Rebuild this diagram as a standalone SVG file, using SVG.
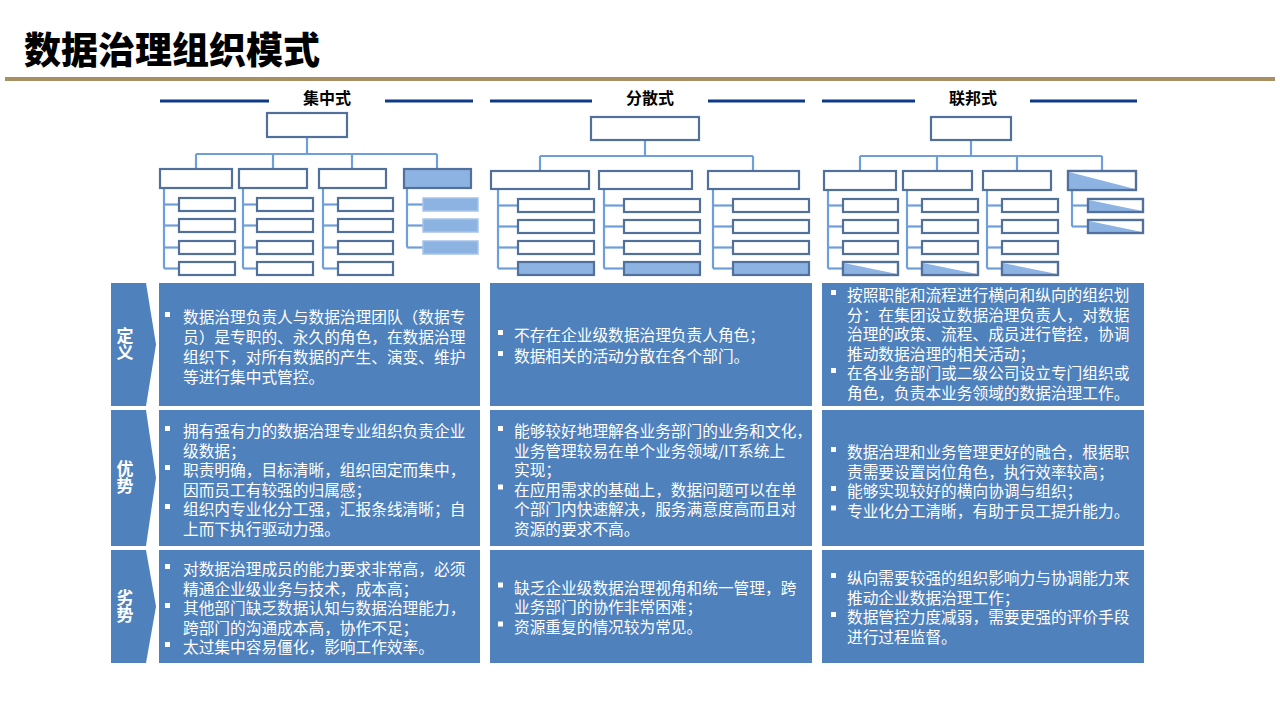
<svg xmlns="http://www.w3.org/2000/svg" width="1280" height="720" viewBox="0 0 1280 720">
<style>
.title{font-family:"Noto Sans CJK SC","Liberation Sans",sans-serif;font-size:37px;font-weight:900;fill:#000}
.hdr{font-family:"Noto Sans CJK SC","Liberation Sans",sans-serif;font-size:16px;font-weight:700;fill:#000}
.hline{stroke:#0F3A8C;stroke-width:3}
.box{fill:#fff;stroke:#52709C;stroke-width:2.2}
.fbox{fill:#8DB3E2;stroke:#52709C;stroke-width:2.2}
.lbox{fill:#8DB3E2;stroke:#A7C4E8;stroke-width:1.5}
.tri{fill:#8DB3E2;stroke:none}
.edge{fill:none;stroke:#52709C;stroke-width:2.2}
.conn line{stroke:#6E9FDA;stroke-width:2.2}
.cell{fill:#4F81BD}
.lab{fill:#4F81BD}
.labt{font-family:"Noto Sans CJK SC","Liberation Sans",sans-serif;font-size:17px;font-weight:700;fill:#fff;text-anchor:middle;writing-mode:vertical-rl}
.txt{font-family:"Noto Sans CJK SC","Liberation Sans",sans-serif;font-size:15.7px;fill:#fff}
.bul{fill:#fff}
</style>

<!-- Title -->
<g id="title">
<text class="title" x="24" y="64">数据治理组织模式</text>
<rect x="5" y="77" width="1270" height="4" fill="#A89064"/>
</g>

<!-- Headers -->
<g id="hdr-central">
<line class="hline" x1="160" y1="101" x2="269" y2="101"/>
<line class="hline" x1="385" y1="101" x2="473" y2="101"/>
<text class="hdr" x="327" y="104" text-anchor="middle">集中式</text>
</g>
<g id="hdr-distributed">
<line class="hline" x1="490" y1="101" x2="592" y2="101"/>
<line class="hline" x1="708" y1="101" x2="805" y2="101"/>
<text class="hdr" x="650" y="104" text-anchor="middle">分散式</text>
</g>
<g id="hdr-federal">
<line class="hline" x1="822" y1="101" x2="915" y2="101"/>
<line class="hline" x1="1030" y1="101" x2="1137" y2="101"/>
<text class="hdr" x="973" y="104" text-anchor="middle">联邦式</text>
</g>

<!-- Connectors -->
<g id="connectors" class="conn">
<!-- chart 1 -->
<line x1="307" y1="137" x2="307" y2="154"/>
<line x1="196" y1="154" x2="437" y2="154"/>
<line x1="196" y1="154" x2="196" y2="169"/>
<line x1="273" y1="154" x2="273" y2="169"/>
<line x1="352" y1="154" x2="352" y2="169"/>
<line x1="437" y1="154" x2="437" y2="169"/>
<line x1="164" y1="188" x2="164" y2="268.5"/>
<line x1="164" y1="204.5" x2="179" y2="204.5"/>
<line x1="164" y1="225.5" x2="179" y2="225.5"/>
<line x1="164" y1="247.5" x2="179" y2="247.5"/>
<line x1="164" y1="268.5" x2="179" y2="268.5"/>
<line x1="243" y1="188" x2="243" y2="268.5"/>
<line x1="243" y1="204.5" x2="257" y2="204.5"/>
<line x1="243" y1="225.5" x2="257" y2="225.5"/>
<line x1="243" y1="247.5" x2="257" y2="247.5"/>
<line x1="243" y1="268.5" x2="257" y2="268.5"/>
<line x1="323" y1="188" x2="323" y2="268.5"/>
<line x1="323" y1="204.5" x2="338" y2="204.5"/>
<line x1="323" y1="225.5" x2="338" y2="225.5"/>
<line x1="323" y1="247.5" x2="338" y2="247.5"/>
<line x1="323" y1="268.5" x2="338" y2="268.5"/>
<line x1="407" y1="188" x2="407" y2="247.5"/>
<line x1="407" y1="204.5" x2="423" y2="204.5"/>
<line x1="407" y1="225.5" x2="423" y2="225.5"/>
<line x1="407" y1="247.5" x2="423" y2="247.5"/>
<!-- chart 2 -->
<line x1="645" y1="140" x2="645" y2="156"/>
<line x1="540" y1="156" x2="753" y2="156"/>
<line x1="540" y1="156" x2="540" y2="171"/>
<line x1="753" y1="156" x2="753" y2="171"/>
<line x1="498" y1="189" x2="498" y2="268.5"/>
<line x1="498" y1="205.5" x2="518" y2="205.5"/>
<line x1="498" y1="226.5" x2="518" y2="226.5"/>
<line x1="498" y1="247.5" x2="518" y2="247.5"/>
<line x1="498" y1="268.5" x2="518" y2="268.5"/>
<line x1="604" y1="189" x2="604" y2="268.5"/>
<line x1="604" y1="205.5" x2="624" y2="205.5"/>
<line x1="604" y1="226.5" x2="624" y2="226.5"/>
<line x1="604" y1="247.5" x2="624" y2="247.5"/>
<line x1="604" y1="268.5" x2="624" y2="268.5"/>
<line x1="713" y1="189" x2="713" y2="268.5"/>
<line x1="713" y1="205.5" x2="733" y2="205.5"/>
<line x1="713" y1="226.5" x2="733" y2="226.5"/>
<line x1="713" y1="247.5" x2="733" y2="247.5"/>
<line x1="713" y1="268.5" x2="733" y2="268.5"/>
<!-- chart 3 -->
<line x1="971" y1="140" x2="971" y2="156"/>
<line x1="860" y1="156" x2="1102" y2="156"/>
<line x1="860" y1="156" x2="860" y2="171"/>
<line x1="937" y1="156" x2="937" y2="171"/>
<line x1="1017" y1="156" x2="1017" y2="171"/>
<line x1="1102" y1="156" x2="1102" y2="171"/>
<line x1="828" y1="190" x2="828" y2="268.5"/>
<line x1="828" y1="205.5" x2="843" y2="205.5"/>
<line x1="828" y1="226.5" x2="843" y2="226.5"/>
<line x1="828" y1="247.5" x2="843" y2="247.5"/>
<line x1="828" y1="268.5" x2="843" y2="268.5"/>
<line x1="907" y1="190" x2="907" y2="268.5"/>
<line x1="907" y1="205.5" x2="922" y2="205.5"/>
<line x1="907" y1="226.5" x2="922" y2="226.5"/>
<line x1="907" y1="247.5" x2="922" y2="247.5"/>
<line x1="907" y1="268.5" x2="922" y2="268.5"/>
<line x1="987" y1="190" x2="987" y2="268.5"/>
<line x1="987" y1="205.5" x2="1002" y2="205.5"/>
<line x1="987" y1="226.5" x2="1002" y2="226.5"/>
<line x1="987" y1="247.5" x2="1002" y2="247.5"/>
<line x1="987" y1="268.5" x2="1002" y2="268.5"/>
<line x1="1072" y1="190" x2="1072" y2="226.5"/>
<line x1="1072" y1="205.5" x2="1088" y2="205.5"/>
<line x1="1072" y1="226.5" x2="1088" y2="226.5"/>
</g>

<!-- Chart 1: centralized -->
<g id="c1-top"><rect class="box" x="267" y="113" width="80" height="24"/></g>
<g id="c1-a"><rect class="box" x="160" y="169" width="72" height="19"/></g>
<g id="c1-b"><rect class="box" x="239" y="169" width="68" height="19"/></g>
<g id="c1-c"><rect class="box" x="319" y="169" width="67" height="19"/></g>
<g id="c1-d"><rect class="fbox" x="404" y="169" width="67" height="19"/></g>
<g id="c1-a1"><rect class="box" x="179" y="198" width="56" height="13"/></g>
<g id="c1-a2"><rect class="box" x="179" y="219" width="56" height="13"/></g>
<g id="c1-a3"><rect class="box" x="179" y="241" width="56" height="13"/></g>
<g id="c1-a4"><rect class="box" x="179" y="262" width="56" height="13"/></g>
<g id="c1-b1"><rect class="box" x="257" y="198" width="56" height="13"/></g>
<g id="c1-b2"><rect class="box" x="257" y="219" width="56" height="13"/></g>
<g id="c1-b3"><rect class="box" x="257" y="241" width="56" height="13"/></g>
<g id="c1-b4"><rect class="box" x="257" y="262" width="56" height="13"/></g>
<g id="c1-c1"><rect class="box" x="338" y="198" width="55" height="13"/></g>
<g id="c1-c2"><rect class="box" x="338" y="219" width="55" height="13"/></g>
<g id="c1-c3"><rect class="box" x="338" y="241" width="55" height="13"/></g>
<g id="c1-c4"><rect class="box" x="338" y="262" width="55" height="13"/></g>
<g id="c1-d1"><rect class="lbox" x="423" y="198" width="55" height="13"/></g>
<g id="c1-d2"><rect class="lbox" x="423" y="219" width="55" height="13"/></g>
<g id="c1-d3"><rect class="lbox" x="423" y="241" width="55" height="13"/></g>

<!-- Chart 2: distributed -->
<g id="c2-top"><rect class="box" x="591" y="117" width="108" height="23"/></g>
<g id="c2-a"><rect class="box" x="491" y="171" width="98" height="18"/></g>
<g id="c2-b"><rect class="box" x="599" y="171" width="93" height="18"/></g>
<g id="c2-c"><rect class="box" x="708" y="171" width="91" height="18"/></g>
<g id="c2-a1"><rect class="box" x="518" y="199" width="76" height="13"/></g>
<g id="c2-a2"><rect class="box" x="518" y="220" width="76" height="13"/></g>
<g id="c2-a3"><rect class="box" x="518" y="241" width="76" height="13"/></g>
<g id="c2-a4"><rect class="fbox" x="518" y="262" width="76" height="13"/></g>
<g id="c2-b1"><rect class="box" x="624" y="199" width="76" height="13"/></g>
<g id="c2-b2"><rect class="box" x="624" y="220" width="76" height="13"/></g>
<g id="c2-b3"><rect class="box" x="624" y="241" width="76" height="13"/></g>
<g id="c2-b4"><rect class="fbox" x="624" y="262" width="76" height="13"/></g>
<g id="c2-c1"><rect class="box" x="733" y="199" width="76" height="13"/></g>
<g id="c2-c2"><rect class="box" x="733" y="220" width="76" height="13"/></g>
<g id="c2-c3"><rect class="box" x="733" y="241" width="76" height="13"/></g>
<g id="c2-c4"><rect class="fbox" x="733" y="262" width="76" height="13"/></g>

<!-- Chart 3: federal -->
<g id="c3-top"><rect class="box" x="931" y="117" width="80" height="23"/></g>
<g id="c3-a"><rect class="box" x="824" y="171" width="72" height="19"/></g>
<g id="c3-b"><rect class="box" x="903" y="171" width="69" height="19"/></g>
<g id="c3-c"><rect class="box" x="983" y="171" width="68" height="19"/></g>
<g id="c3-d"><rect class="box" x="1068" y="171" width="68" height="19"/><polygon class="tri" points="1069,172 1069,189 1135,189"/><rect class="edge" x="1068" y="171" width="68" height="19"/></g>
<g id="c3-a1"><rect class="box" x="843" y="199" width="55" height="13"/></g>
<g id="c3-a2"><rect class="box" x="843" y="220" width="55" height="13"/></g>
<g id="c3-a3"><rect class="box" x="843" y="241" width="55" height="13"/></g>
<g id="c3-a4"><rect class="box" x="843" y="262" width="55" height="13"/><polygon class="tri" points="844,263 844,274 897,274"/><rect class="edge" x="843" y="262" width="55" height="13"/></g>
<g id="c3-b1"><rect class="box" x="922" y="199" width="56" height="13"/></g>
<g id="c3-b2"><rect class="box" x="922" y="220" width="56" height="13"/></g>
<g id="c3-b3"><rect class="box" x="922" y="241" width="56" height="13"/></g>
<g id="c3-b4"><rect class="box" x="922" y="262" width="56" height="13"/><polygon class="tri" points="923,263 923,274 977,274"/><rect class="edge" x="922" y="262" width="56" height="13"/></g>
<g id="c3-c1"><rect class="box" x="1002" y="199" width="56" height="13"/></g>
<g id="c3-c2"><rect class="box" x="1002" y="220" width="56" height="13"/></g>
<g id="c3-c3"><rect class="box" x="1002" y="241" width="56" height="13"/></g>
<g id="c3-c4"><rect class="box" x="1002" y="262" width="56" height="13"/><polygon class="tri" points="1003,263 1003,274 1057,274"/><rect class="edge" x="1002" y="262" width="56" height="13"/></g>
<g id="c3-d1"><rect class="box" x="1088" y="199" width="55" height="13"/><polygon class="tri" points="1089,200 1089,211 1142,211"/><rect class="edge" x="1088" y="199" width="55" height="13"/></g>
<g id="c3-d2"><rect class="box" x="1088" y="220" width="55" height="13"/><polygon class="tri" points="1089,221 1089,232 1142,232"/><rect class="edge" x="1088" y="220" width="55" height="13"/></g>

<!-- Row labels -->
<g id="lab-def">
<path class="lab" d="M111,283 H146 L156,344.5 L146,406 H111 Z"/>
<text class="labt" x="125" y="344.5">定义</text>
</g>
<g id="lab-adv">
<path class="lab" d="M111,410 H146 L156,478 L146,546 H111 Z"/>
<text class="labt" x="125" y="477">优势</text>
</g>
<g id="lab-dis">
<path class="lab" d="M111,550 H146 L156,606.5 L146,663 H111 Z"/>
<text class="labt" x="125" y="606">劣势</text>
</g>

<!-- Row 1 -->
<g id="r1c1">
<rect class="cell" x="159" y="283" width="321" height="123"/>
<rect class="bul" x="165" y="312" width="5" height="5"/>
<text class="txt"><tspan x="183" y="323">数据治理负责人与数据治理团队（数据专</tspan><tspan x="183" y="343">员）是专职的、永久的角色，在数据治理</tspan><tspan x="183" y="363">组织下，对所有数据的产生、演变、维护</tspan><tspan x="183" y="383">等进行集中式管控。</tspan></text>
</g>
<g id="r1c2">
<rect class="cell" x="490" y="283" width="322" height="123"/>
<rect class="bul" x="498" y="330" width="5" height="5"/>
<rect class="bul" x="498" y="351" width="5" height="5"/>
<text class="txt"><tspan x="514" y="341">不存在企业级数据治理负责人角色；</tspan><tspan x="514" y="362">数据相关的活动分散在各个部门。</tspan></text>
</g>
<g id="r1c3">
<rect class="cell" x="822" y="283" width="322" height="123"/>
<rect class="bul" x="831" y="290" width="5" height="5"/>
<rect class="bul" x="831" y="368" width="5" height="5"/>
<text class="txt"><tspan x="847" y="301">按照职能和流程进行横向和纵向的组织划</tspan><tspan x="847" y="320.5">分：在集团设立数据治理负责人，对数据</tspan><tspan x="847" y="340">治理的政策、流程、成员进行管控，协调</tspan><tspan x="847" y="359.5">推动数据治理的相关活动；</tspan><tspan x="847" y="379">在各业务部门或二级公司设立专门组织或</tspan><tspan x="847" y="398.5">角色，负责本业务领域的数据治理工作。</tspan></text>
</g>

<!-- Row 2 -->
<g id="r2c1">
<rect class="cell" x="159" y="410" width="321" height="136"/>
<rect class="bul" x="165" y="426" width="5" height="5"/>
<rect class="bul" x="165" y="465" width="5" height="5"/>
<rect class="bul" x="165" y="504" width="5" height="5"/>
<text class="txt"><tspan x="183" y="437">拥有强有力的数据治理专业组织负责企业</tspan><tspan x="183" y="456.5">级数据；</tspan><tspan x="183" y="476">职责明确，目标清晰，组织固定而集中，</tspan><tspan x="183" y="495.5">因而员工有较强的归属感；</tspan><tspan x="183" y="515">组织内专业化分工强，汇报条线清晰；自</tspan><tspan x="183" y="534.5">上而下执行驱动力强。</tspan></text>
</g>
<g id="r2c2">
<rect class="cell" x="490" y="410" width="322" height="136"/>
<rect class="bul" x="498" y="426" width="5" height="5"/>
<rect class="bul" x="498" y="484.5" width="5" height="5"/>
<text class="txt"><tspan x="514" y="437">能够较好地理解各业务部门的业务和文化，</tspan><tspan x="514" y="456.5">业务管理较易在单个业务领域/IT系统上</tspan><tspan x="514" y="476">实现；</tspan><tspan x="514" y="495.5">在应用需求的基础上，数据问题可以在单</tspan><tspan x="514" y="515">个部门内快速解决，服务满意度高而且对</tspan><tspan x="514" y="534.5">资源的要求不高。</tspan></text>
</g>
<g id="r2c3">
<rect class="cell" x="822" y="410" width="322" height="136"/>
<rect class="bul" x="831" y="447" width="5" height="5"/>
<rect class="bul" x="831" y="486" width="5" height="5"/>
<rect class="bul" x="831" y="505.5" width="5" height="5"/>
<text class="txt"><tspan x="847" y="458">数据治理和业务管理更好的融合，根据职</tspan><tspan x="847" y="477.5">责需要设置岗位角色，执行效率较高；</tspan><tspan x="847" y="497">能够实现较好的横向协调与组织；</tspan><tspan x="847" y="516.5">专业化分工清晰，有助于员工提升能力。</tspan></text>
</g>

<!-- Row 3 -->
<g id="r3c1">
<rect class="cell" x="159" y="550" width="321" height="113"/>
<rect class="bul" x="165" y="564" width="5" height="5"/>
<rect class="bul" x="165" y="603" width="5" height="5"/>
<rect class="bul" x="165" y="642" width="5" height="5"/>
<text class="txt"><tspan x="183" y="575">对数据治理成员的能力要求非常高，必须</tspan><tspan x="183" y="594.5">精通企业级业务与技术，成本高；</tspan><tspan x="183" y="614">其他部门缺乏数据认知与数据治理能力，</tspan><tspan x="183" y="633.5">跨部门的沟通成本高，协作不足；</tspan><tspan x="183" y="653">太过集中容易僵化，影响工作效率。</tspan></text>
</g>
<g id="r3c2">
<rect class="cell" x="490" y="550" width="322" height="113"/>
<rect class="bul" x="498" y="582.5" width="5" height="5"/>
<rect class="bul" x="498" y="621.5" width="5" height="5"/>
<text class="txt"><tspan x="514" y="593.5">缺乏企业级数据治理视角和统一管理，跨</tspan><tspan x="514" y="613">业务部门的协作非常困难；</tspan><tspan x="514" y="632.5">资源重复的情况较为常见。</tspan></text>
</g>
<g id="r3c3">
<rect class="cell" x="822" y="550" width="322" height="113"/>
<rect class="bul" x="831" y="573" width="5" height="5"/>
<rect class="bul" x="831" y="612" width="5" height="5"/>
<text class="txt"><tspan x="847" y="584">纵向需要较强的组织影响力与协调能力来</tspan><tspan x="847" y="603.5">推动企业数据治理工作；</tspan><tspan x="847" y="623">数据管控力度减弱，需要更强的评价手段</tspan><tspan x="847" y="642.5">进行过程监督。</tspan></text>
</g>
</svg>
